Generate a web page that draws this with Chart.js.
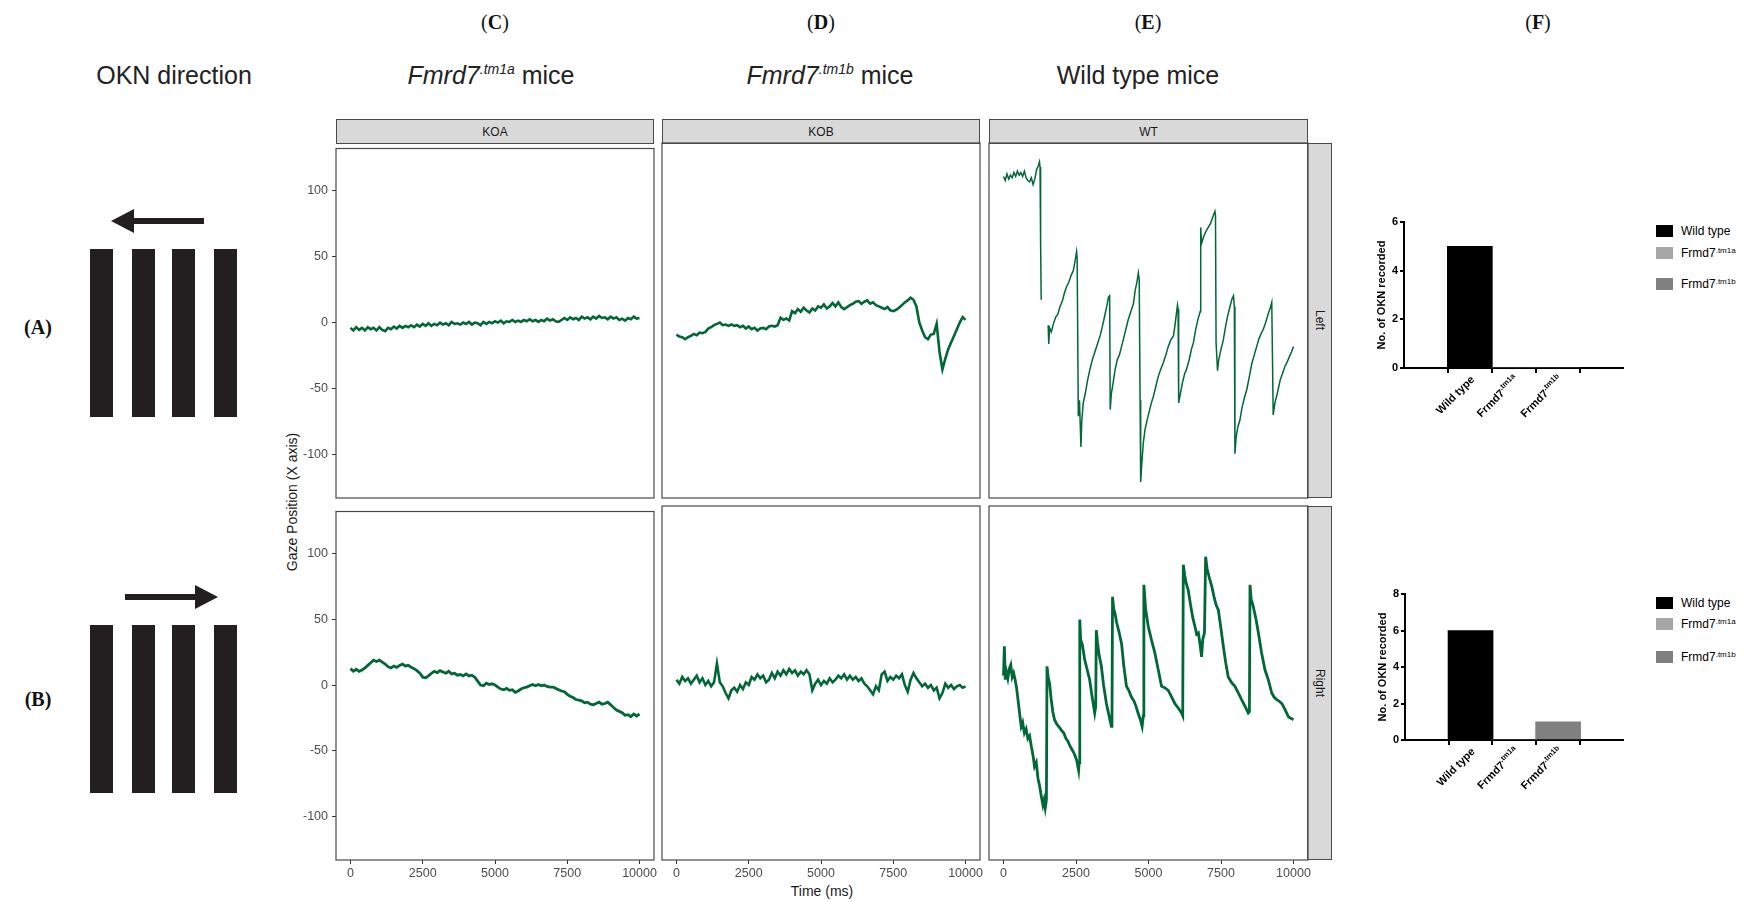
<!DOCTYPE html>
<html>
<head>
<meta charset="utf-8">
<script src="https://cdn.jsdelivr.net/npm/chart.js@4.4.0/dist/chart.umd.min.js"></script>
<style>
  body { margin: 0; width: 1744px; height: 902px; background: #fff; position: relative; overflow: hidden;
         font-family: "Liberation Sans", Arial, sans-serif; }
  .c { position: absolute; transform: translate(-50%, -50%); white-space: nowrap; }
  .panelLetter { font-family: "Liberation Serif", "Times New Roman", serif; font-size: 20px; color: #111; }
  .panelLetter b { font-weight: bold; }
  .head { font-size: 25px; color: #222; }
  .head sup { font-size: 14px; vertical-align: 10px; line-height: 0; }
  .strip { position: absolute; box-sizing: border-box; background: #d9d9d9; border: 1px solid #4a4a4a;
           font-size: 12px; color: #1a1a1a; display: flex; align-items: center; justify-content: center; }
  .strip.side { writing-mode: vertical-rl; }
  .axisTitle { font-size: 14px; color: #1a1a1a; }
  .key { position: absolute; width: 17px; height: 12px; }
  .keyText { position: absolute; font-size: 12px; color: #000; transform: translateY(-50%); white-space: nowrap; }
  .keyText sup { font-size: 8px; vertical-align: 4px; line-height: 0; }
  canvas { position: absolute; }
</style>
</head>
<body>

<!-- OKN stimulus drawings -->
<svg style="position:absolute;left:0;top:0" width="260" height="902">
  <g fill="#231f20">
    <rect x="90" y="249" width="23" height="168"/>
    <rect x="132" y="249" width="23" height="168"/>
    <rect x="172" y="249" width="23" height="168"/>
    <rect x="214" y="249" width="23" height="168"/>
    <rect x="90" y="625" width="23" height="168"/>
    <rect x="132" y="625" width="23" height="168"/>
    <rect x="172" y="625" width="23" height="168"/>
    <rect x="214" y="625" width="23" height="168"/>
    <rect x="130" y="218" width="74" height="6"/>
    <polygon points="111,221 134,209 134,233"/>
    <rect x="125" y="594" width="73" height="6"/>
    <polygon points="218,597 195,585 195,609"/>
  </g>
</svg>

<div class="c panelLetter" style="left:38px;top:327px"><b>(A)</b></div>
<div class="c panelLetter" style="left:38px;top:699px"><b>(B)</b></div>
<div class="c panelLetter" style="left:495px;top:22px">(<b>C</b>)</div>
<div class="c panelLetter" style="left:821px;top:22px">(<b>D</b>)</div>
<div class="c panelLetter" style="left:1148px;top:22px">(<b>E</b>)</div>
<div class="c panelLetter" style="left:1538px;top:22px">(<b>F</b>)</div>

<div class="c head" style="left:174px;top:75px">OKN direction</div>
<div class="c head" style="left:491px;top:75px"><i>Fmrd7</i><sup><i>.tm1a</i></sup> mice</div>
<div class="c head" style="left:830px;top:75px"><i>Fmrd7</i><sup><i>.tm1b</i></sup> mice</div>
<div class="c head" style="left:1138px;top:75px">Wild type mice</div>

<div class="strip" style="left:336px;top:119px;width:318px;height:25px">KOA</div>
<div class="strip" style="left:662px;top:119px;width:318px;height:25px">KOB</div>
<div class="strip" style="left:989px;top:119px;width:319px;height:25px">WT</div>
<div class="strip side" style="left:1307px;top:143px;width:25px;height:355px">Left</div>
<div class="strip side" style="left:1307px;top:506px;width:25px;height:354px">Right</div>

<div class="c axisTitle" style="left:292px;top:502px;transform:translate(-50%,-50%) rotate(-90deg)">Gaze Position (X axis)</div>
<div class="c axisTitle" style="left:822px;top:891px">Time (ms)</div>

<div class="key" style="left:1656px;top:225px;background:#000"></div>
<div class="keyText" style="left:1681px;top:231px">Wild type</div>
<div class="key" style="left:1656px;top:247px;background:#a6a6a6"></div>
<div class="keyText" style="left:1681px;top:253px">Frmd7<sup>.tm1a</sup></div>
<div class="key" style="left:1656px;top:278px;background:#808080"></div>
<div class="keyText" style="left:1681px;top:284px">Frmd7<sup>.tm1b</sup></div>

<div class="key" style="left:1656px;top:597px;background:#000"></div>
<div class="keyText" style="left:1681px;top:603px">Wild type</div>
<div class="key" style="left:1656px;top:618px;background:#a6a6a6"></div>
<div class="keyText" style="left:1681px;top:624px">Frmd7<sup>.tm1a</sup></div>
<div class="key" style="left:1656px;top:651px;background:#808080"></div>
<div class="keyText" style="left:1681px;top:657px">Frmd7<sup>.tm1b</sup></div>

<script>
// gaze traces (X position), KO traces sampled every 100 ms
const sampleTimes = [];
for (let t = 0; t <= 10000; t += 100) sampleTimes.push(t);

const koaLeft = [
  -4, -6, -3.5, -5.5, -4, -6, -3.5, -5, -4, -6,
  -3.5, -5.5, -6.5, -4, -5, -3, -4.5, -2.5, -4, -2.5,
  -3.5, -2, -3.5, -1.5, -3, -1, -2.5, -0.5, -2.5, -1,
  -2, 0, -1.5, -0.5, -2, 0.5, -1, -0.5, -1.5, 0,
  -1, 0.5, -1.5, 0, -0.5, -2, 0.5, -1, 0.5, -0.5,
  1, 0, 1.5, -0.5, 1, 0.5, 2, 0.5, 1.5, 0.5,
  2, 1, 2.5, 1, 2, 0.5, 2, 1, 3, 1.5,
  2.5, 1, 0.5, 2, 3.5, 2, 4, 2.5, 3.5, 2,
  4.5, 3, 4, 2.5, 4.5, 3, 5, 3.5, 4, 2.5,
  4.5, 3, 4, 2, 3, 1.5, 3.5, 2.5, 4.5, 3,
  3.5
];
const koaRight = [
  12.5, 10.5, 12, 10.5, 11.5, 13, 15, 17, 19, 18,
  19, 17.5, 16, 14, 13, 14.5, 13.5, 15, 16, 14.5,
  15, 13.5, 12.5, 11, 9, 6, 5.5, 7, 9, 10.5,
  9.5, 11, 10, 9, 10.5, 8.5, 9, 7.5, 8, 7,
  8.5, 7, 7.5, 6, 3, 0, -0.5, 1.5, 0.5, 1,
  0, -1.5, -3, -3.5, -2.5, -4, -3.5, -5.5, -4.5, -3,
  -2, -1.5, -0.5, 0.5, -0.5, 0.5, -0.5, 0, -1, -1.5,
  -1.5, -2.5, -3.5, -4.5, -5, -7, -8.5, -9.5, -11, -11.5,
  -12, -13.5, -13, -14.5, -15, -14, -13, -14.5, -14, -13,
  -15, -17, -19, -20, -21, -23, -22.5, -24, -22, -23.5,
  -22
];
const kobLeft = [
  -11, -12.5, -13, -14.5, -13, -12, -10.5, -11.5, -9.5, -10,
  -9, -6.5, -5.5, -4, -3, -2, -4, -3.5, -4.5, -3.5,
  -4.5, -4, -5.5, -4.5, -6.5, -5, -7, -6, -8, -6.5,
  -6, -7, -5, -4.5, -5, -4, 1.5, 0, 1, -0.5,
  6.5, 5, 8, 6, 9, 7, 5.5, 8.5, 7, 10,
  9, 11.5, 8.5, 10, 12.5, 10, 13, 9.5, 8, 9.5,
  11, 12, 13.5, 14, 12, 13.5, 14.5, 12, 13, 11,
  10, 9, 8, 9.5, 7, 6.5, 7.5, 9, 11, 13,
  14.5, 16.5, 15, 10, -2, -8, -13, -14.5, -11, -10.5,
  -3, -24, -37, -29, -22, -17, -12, -7, -2, 2,
  0
];
const kobRight = [
  2, -1, 4, 1, 3, -1, 2, 5, 0, 3,
  -2, 1, -3, 0, 14, 0, -3, -8, -12, -6,
  -4, -7, -2, -5, 0, -2, 4, 2, 6, 3,
  5, 0, 2, 7, 3, 8, 5, 9, 6, 10,
  7, 9, 5, 8, 6, 9, 6, -6, -1, 2,
  -2, 1, -1, 3, 0, 2, 5, 3, 6, 2,
  5, 2, 4, 1, 3, -1, -3, -6, -9, -3,
  -6, 6, 8, 1, 4, 2, 5, 3, 6, -2,
  -7, 2, 7, 3, 0, -3, -1, -4, -2, -6,
  -4, -12, -8, -1, -4, -2, -5, -3, -2, -4,
  -3
];

// wild type traces, irregular sample times so the fast phases stay steep
const wtLeftTime = [
  0, 60, 120, 180, 240, 300, 360, 420, 480, 540,
  600, 660, 720, 780, 840, 900, 960, 1020, 1080, 1140,
  1200, 1240, 1260, 1280, 1300, 1400, 1540, 1560, 1590, 1650,
  1720, 1800, 1870, 1950, 2030, 2100, 2180, 2250, 2330, 2410,
  2470, 2520, 2540, 2580, 2620, 2670, 2700, 2750, 2820, 2900,
  2980, 3060, 3150, 3240, 3330, 3420, 3500, 3560, 3620, 3660,
  3680, 3720, 3780, 3850, 3920, 4000, 4070, 4130, 4220, 4300,
  4390, 4480, 4540, 4600, 4650, 4680, 4710, 4730, 4760, 4820,
  4880, 4950, 5030, 5100, 5170, 5260, 5340, 5420, 5510, 5600,
  5680, 5770, 5860, 5920, 5970, 6000, 6020, 6040, 6100, 6180,
  6250, 6310, 6400, 6480, 6550, 6620, 6700, 6780, 6800, 6830,
  6900, 6980, 7060, 7140, 7220, 7290, 7310, 7330, 7380, 7420,
  7500, 7580, 7650, 7720, 7800, 7870, 7930, 7960, 7980, 8020,
  8080, 8150, 8230, 8310, 8390, 8480, 8560, 8650, 8730, 8810,
  8890, 8960, 9040, 9120, 9200, 9250, 9270, 9300, 9360, 9440,
  9540, 9620, 9700, 9770, 9850, 9930, 10000
];
const wtLeftGaze = [
  107, 104, 109, 105, 108, 106, 110, 107, 111, 108,
  110, 107, 111, 106, 104, 103, 106, 101, 105, 112,
  115, 118, 114, 56, 15, null, -4, -18, -6, -9,
  -3, 2, 4, 10, 14, 20, 25, 28, 33, 37,
  44, 51, 46, -72, -60, -95, -75, -62, -55, -45,
  -37, -30, -24, -18, -12, -4, 4, 10, 17, 18,
  -67, -55, -47, -37, -30, -26, -20, -15, -7, 0,
  6, 12, 22, 28, 35, 30, -60, -121, -110, -92,
  -82, -75, -68, -62, -57, -49, -42, -37, -32, -26,
  -20, -15, -12, -3, 6, 11, 8, -62, -55, -46,
  -40, -37, -30, -22, -17, -8, 0, 6, 69, 57,
  62, 66, 69, 72, 77, 81, 78, -17, -38, -30,
  -22, -15, -6, 2, 9, 15, 18, 10, -100, -88,
  -80, -75, -65, -58, -52, -42, -33, -26, -20, -14,
  -10, -7, -2, 4, 9, 13, -20, -71, -62, -55,
  -45, -40, -35, -32, -28, -24, -20
];
const wtRightTime = [
  0, 30, 60, 100, 150, 200, 250, 300, 350, 400,
  450, 500, 560, 610, 660, 720, 780, 840, 900, 960,
  1020, 1070, 1130, 1190, 1250, 1300, 1360, 1400, 1440, 1480,
  1500, 1540, 1590, 1640, 1700, 1760, 1830, 1900, 2000, 2080,
  2150, 2220, 2300, 2380, 2450, 2520, 2590, 2610, 2630, 2660,
  2720, 2800, 2880, 2970, 3050, 3145, 3180, 3200, 3240, 3300,
  3375, 3450, 3550, 3630, 3720, 3740, 3760, 3800, 3840, 3900,
  3980, 4070, 4150, 4240, 4320, 4410, 4500, 4570, 4640, 4720,
  4780, 4820, 4840, 4900, 4990, 5100, 5220, 5330, 5450, 5560,
  5680, 5800, 5910, 6020, 6140, 6180, 6200, 6250, 6300, 6370,
  6450, 6530, 6600, 6660, 6720, 6780, 6830, 6870, 6930, 6970,
  7020, 7100, 7180, 7260, 7330, 7410, 7500, 7580, 7660, 7750,
  7860, 7980, 8100, 8210, 8330, 8440, 8480, 8500, 8540, 8600,
  8700, 8790, 8900, 9020, 9130, 9250, 9330, 9420, 9500, 9600,
  9700, 9830, 9920, 10000
];
const wtRightGaze = [
  5, 27, 2, 8, 3, 10, 13, 4, 7, 2,
  -4, -13, -24, -33, -30, -38, -35, -42, -40, -48,
  -55, -63, -60, -72, -78, -85, -92, -88, -94, -88,
  12, 4, -1, -12, -22, -28, -31, -33, -36, -38,
  -42, -44, -48, -51, -54, -58, -66, -60, 47, 32,
  28, 17, 10, 2, -10, -23, -18, 39, 30, 20,
  12, -2, -16, -24, -33, -30, 64, 55, 52, 45,
  38, 29, 12, -3, -6, -11, -14, -18, -23, -28,
  -33, -25, 73, 55, 42, 32, 22, 10, -3, -4,
  -6, -11, -16, -19, -23, -25, 88, 80, 74, 69,
  58, 48, 42, 36, 37, 28, 19, 32, 37, 94,
  85, 78, 72, 64, 58, 54, 40, 27, 15, 4,
  0, -3, -8, -13, -18, -23, -22, 73, 62, 58,
  48, 37, 22, 9, 2, -8, -11, -13, -14, -16,
  -20, -26, -27, -28
];

const timeTicks = [0, 2500, 5000, 7500, 10000];
const gazeTicks = [-100, -50, 0, 50, 100];

// OKN counts per genotype
const groupNames = ["Wild type", "Frmd7", "Frmd7"];
const groupSups = ["", ".tm1a", ".tm1b"];
const oknLeft = [5, 0, 0];
const oknRight = [6, 0, 1];
const groupColors = ["#000000", "#a6a6a6", "#808080"];

const FONT = '"Liberation Sans", Arial, sans-serif';
const green = "#006837";
const tickGrey = "#4d4d4d";

const cols = [{ x: 336, w: 318 }, { x: 662, w: 318 }, { x: 989, w: 319 }];
const rows = [{ y: 143, h: 355 }, { y: 506, h: 354 }];

const panelBorder = {
  id: "panelBorder",
  afterDraw(chart) {
    const { ctx, chartArea: a } = chart;
    ctx.save();
    ctx.strokeStyle = "#4a4a4a";
    ctx.lineWidth = 1.2;
    ctx.strokeRect(a.left, a.top, a.right - a.left, a.bottom - a.top);
    ctx.restore();
  }
};

function addCanvas(left, top, w, h) {
  const cv = document.createElement("canvas");
  cv.width = w;
  cv.height = h;
  cv.style.left = left + "px";
  cv.style.top = top + "px";
  document.body.appendChild(cv);
  return cv;
}

function gazePanel(ci, ri, times, gaze, lw) {
  const col = cols[ci], row = rows[ri];
  const padL = 50, padT = 6, padR = 6, padB = 26;
  const cv = addCanvas(col.x - padL, row.y - padT, col.w + padL + padR, row.h + padT + padB);
  const showY = ci === 0, showX = ri === 1;
  new Chart(cv, {
    type: "line",
    data: {
      datasets: [{
        data: times.map((t, i) => ({ x: t, y: gaze[i] })),
        borderColor: green,
        borderWidth: lw,
        pointRadius: 0,
        tension: 0,
        spanGaps: false
      }]
    },
    options: {
      responsive: false,
      animation: false,
      events: [],
      layout: { padding: { top: padT, right: padR, left: 0, bottom: 0 } },
      plugins: { legend: { display: false }, tooltip: { enabled: false } },
      scales: {
        x: {
          type: "linear", min: -500, max: 10500,
          afterBuildTicks: s => { s.ticks = timeTicks.map(v => ({ value: v })); },
          afterFit: s => { s.height = padB; },
          ticks: { display: showX, color: tickGrey, font: { family: FONT, size: 12.5 }, padding: 2,
                   maxRotation: 0, autoSkip: false, callback: v => String(v) },
          grid: { display: showX, drawOnChartArea: false, tickLength: 4, color: "#333" },
          border: { display: false }
        },
        y: {
          type: "linear", min: -133, max: 132,
          afterBuildTicks: s => { s.ticks = gazeTicks.map(v => ({ value: v })); },
          afterFit: s => { s.width = padL; },
          ticks: { display: showY, color: tickGrey, font: { family: FONT, size: 12.5 }, padding: 4,
                   callback: v => String(v) },
          grid: { display: showY, drawOnChartArea: false, tickLength: 4, color: "#333" },
          border: { display: false }
        }
      }
    },
    plugins: [panelBorder]
  });
}

gazePanel(0, 0, sampleTimes, koaLeft, 2.6);
gazePanel(1, 0, sampleTimes, kobLeft, 2.6);
gazePanel(2, 0, wtLeftTime, wtLeftGaze, 1.5);
gazePanel(0, 1, sampleTimes, koaRight, 2.8);
gazePanel(1, 1, sampleTimes, kobRight, 2.6);
gazePanel(2, 1, wtRightTime, wtRightGaze, 2.8);

const rotatedLabels = {
  id: "rotatedLabels",
  afterDraw(chart) {
    const { ctx, chartArea } = chart;
    const xs = chart.scales.x;
    groupNames.forEach((name, i) => {
      const px = xs.getPixelForValue(i) + 3;
      const py = chartArea.bottom + 10;
      ctx.save();
      ctx.translate(px, py);
      ctx.rotate(-Math.PI / 4);
      ctx.fillStyle = "#000";
      ctx.textBaseline = "middle";
      ctx.textAlign = "left";
      ctx.font = "bold 11px " + FONT;
      const w1 = ctx.measureText(name).width;
      ctx.font = "bold 7.5px " + FONT;
      const w2 = groupSups[i] ? ctx.measureText(groupSups[i]).width : 0;
      ctx.font = "bold 11px " + FONT;
      ctx.fillText(name, -(w1 + w2), 0);
      if (groupSups[i]) {
        ctx.font = "bold 7.5px " + FONT;
        ctx.fillText(groupSups[i], -w2, -4);
      }
      ctx.restore();
    });
  }
};

function oknBars(area, counts, yMax) {
  const padL = 33, padT = 10, padR = 17, padB = 62;
  const cv = addCanvas(area.left - padL, area.top - padT,
    area.right - area.left + padL + padR, area.bottom - area.top + padT + padB);
  new Chart(cv, {
    type: "bar",
    data: {
      datasets: [{
        data: counts.map((c, i) => ({ x: i, y: c })),
        backgroundColor: groupColors,
        borderWidth: 0,
        barThickness: 45
      }]
    },
    options: {
      responsive: false,
      animation: false,
      events: [],
      layout: { padding: { top: padT, right: padR, left: 0, bottom: 0 } },
      plugins: { legend: { display: false }, tooltip: { enabled: false } },
      scales: {
        x: {
          type: "linear", min: -0.667, max: 2.652,
          afterBuildTicks: s => { s.ticks = groupNames.map((n, i) => ({ value: i })); },
          afterFit: s => { s.height = padB; },
          ticks: { display: false },
          grid: { drawOnChartArea: false, tickLength: 5, color: "#000", lineWidth: 2 },
          border: { display: true, color: "#000", width: 2 }
        },
        y: {
          min: 0, max: yMax,
          ticks: { stepSize: 2, color: "#000", font: { family: FONT, size: 11, weight: "bold" }, padding: 2 },
          afterFit: s => { s.width = padL; },
          title: { display: true, text: "No. of OKN recorded", color: "#000",
                   font: { family: FONT, size: 11, weight: "bold" }, padding: { top: 4, bottom: 0 } },
          grid: { drawOnChartArea: false, tickLength: 4, color: "#000", lineWidth: 2 },
          border: { display: true, color: "#000", width: 2 }
        }
      }
    },
    plugins: [rotatedLabels]
  });
}

oknBars({ left: 1404, top: 222, right: 1623, bottom: 368 }, oknLeft, 6);
oknBars({ left: 1405, top: 594, right: 1623, bottom: 740 }, oknRight, 8);
</script>
</body>
</html>
